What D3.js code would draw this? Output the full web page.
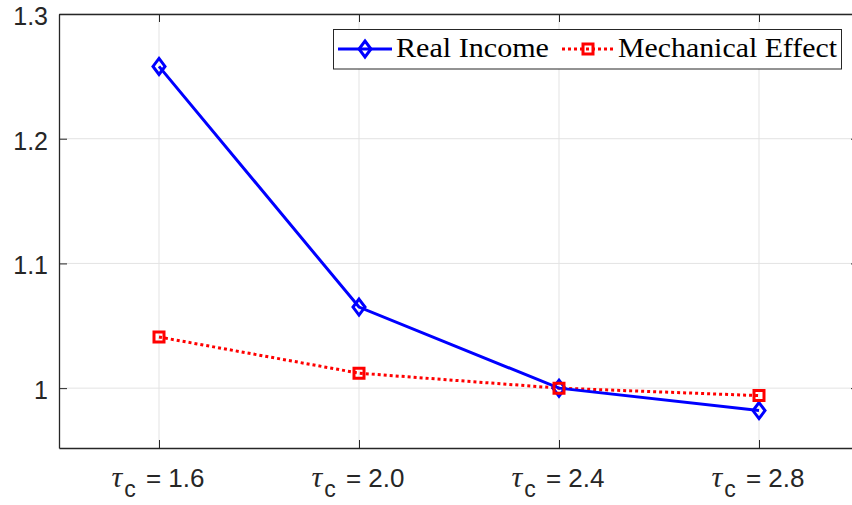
<!DOCTYPE html>
<html><head><meta charset="utf-8">
<script src="https://cdn.jsdelivr.net/npm/d3@7"></script>
<style>body{margin:0;background:#fff}svg{display:block}</style>
</head><body>
<svg id="c" width="852" height="505"></svg>
<script>
const categories = ["1.6", "2.0", "2.4", "2.8"];
const realIncome = [1.258, 1.065, 1.000, 0.982];
const mechanical = [1.041, 1.012, 1.000, 0.994];
const yTicks = [1, 1.1, 1.2, 1.3];
const yTickLabels = ["1", "1.1", "1.2", "1.3"];
const seriesNames = ["Real Income", "Mechanical Effect"];

const svg = d3.select("#c");
const L = 59, R = 859, T = 14, B = 448;
const x = d3.scaleLinear().domain([0.5, 4.5]).range([L, R]);
const y = d3.scaleLinear().domain([0.952, 1.3]).range([B, T]);
const idx = categories.map((d, i) => i + 1);
const sans = "Liberation Sans, Arial, Helvetica, sans-serif";
const serif = "Liberation Serif, Times New Roman, serif";

// grid
svg.append("g").selectAll("line").data(idx).join("line")
  .attr("x1", d => x(d)).attr("x2", d => x(d)).attr("y1", T).attr("y2", B)
  .attr("stroke", "#e3e3e3").attr("stroke-width", 1);
svg.append("g").selectAll("line").data(yTicks).join("line")
  .attr("x1", L).attr("x2", R).attr("y1", d => y(d)).attr("y2", d => y(d))
  .attr("stroke", "#e3e3e3").attr("stroke-width", 1);

// axes
const axCol = "#262626";
const yAx = svg.append("g").attr("transform", `translate(${L},0)`)
  .call(d3.axisLeft(y).tickValues(yTicks).tickFormat((d, i) => yTickLabels[i]).tickSizeInner(-8).tickSizeOuter(0).tickPadding(11));
const yAxR = svg.append("g").attr("transform", `translate(${R},0)`)
  .call(d3.axisRight(y).tickValues(yTicks).tickFormat("").tickSizeInner(-8).tickSizeOuter(0));
const xAx = svg.append("g").attr("transform", `translate(0,${B})`)
  .call(d3.axisBottom(x).tickValues(idx).tickFormat("").tickSizeInner(-8).tickSizeOuter(0));
const xAxT = svg.append("g").attr("transform", `translate(0,${T})`)
  .call(d3.axisTop(x).tickValues(idx).tickFormat("").tickSizeInner(-8).tickSizeOuter(0));
[yAx, yAxR, xAx, xAxT].forEach(g => {
  g.select(".domain").attr("stroke", axCol).attr("stroke-width", 1.3);
  g.selectAll(".tick line").attr("stroke", axCol).attr("stroke-width", 1);
});
yAx.selectAll(".tick text").attr("font-family", sans)
  .attr("font-size", 25).attr("fill", axCol).attr("dy", "0.42em");

// x labels
const xl = svg.append("g").selectAll("text").data(categories).join("text")
  .attr("x", (d, i) => x(i + 1) - 1).attr("y", 487)
  .attr("text-anchor", "middle").attr("font-family", sans)
  .attr("font-size", 26).attr("fill", axCol);
xl.append("tspan").attr("font-family", serif).attr("font-style", "italic").attr("font-size", 30).text("τ");
xl.append("tspan").attr("dx", 2).attr("dy", 10).attr("font-size", 23).text("c");
xl.append("tspan").attr("dx", 3).attr("dy", -10).text(d => " = " + d);

// lines
const line = d3.line().x((d, i) => x(i + 1)).y(d => y(d));
svg.append("path").datum(mechanical).attr("d", line).attr("fill", "none")
  .attr("stroke", "#ff0000").attr("stroke-width", 3).attr("stroke-dasharray", "3,3");
svg.append("path").datum(realIncome).attr("d", line).attr("fill", "none")
  .attr("stroke", "#0000ff").attr("stroke-width", 3);

const diamond = (cx, cy) => `M${cx},${cy-8}L${cx+6},${cy}L${cx},${cy+8}L${cx-6},${cy}Z`;
const square = (cx, cy) => `M${cx-5},${cy-5}h10v10h-10Z`;
svg.append("g").selectAll("path").data(realIncome).join("path")
  .attr("d", (d, i) => diamond(x(i + 1), y(d))).attr("fill", "none")
  .attr("stroke", "#0000ff").attr("stroke-width", 3);
svg.append("g").selectAll("path").data(mechanical).join("path")
  .attr("d", (d, i) => square(x(i + 1), y(d))).attr("fill", "none")
  .attr("stroke", "#ff0000").attr("stroke-width", 3);

// legend
const lg = svg.append("g");
lg.append("rect").attr("x", 333.5).attr("y", 29.5).attr("width", 508).attr("height", 39.5)
  .attr("fill", "#fff").attr("stroke", axCol).attr("stroke-width", 1);
lg.append("line").attr("x1", 338).attr("x2", 392).attr("y1", 49).attr("y2", 49)
  .attr("stroke", "#0000ff").attr("stroke-width", 3);
lg.append("path").attr("d", diamond(365, 49)).attr("fill", "none").attr("stroke", "#0000ff").attr("stroke-width", 3);
lg.append("line").attr("x1", 562).attr("x2", 614).attr("y1", 49).attr("y2", 49)
  .attr("stroke", "#ff0000").attr("stroke-width", 3).attr("stroke-dasharray", "3,3");
lg.append("path").attr("d", square(588, 49)).attr("fill", "none").attr("stroke", "#ff0000").attr("stroke-width", 3);
lg.selectAll("text").data(seriesNames).join("text")
  .attr("x", (d, i) => i === 0 ? 396 : 618).attr("y", 57)
  .attr("font-family", serif).attr("font-size", 28)
  .attr("textLength", (d, i) => i === 0 ? 153 : 219).attr("lengthAdjust", "spacingAndGlyphs")
  .attr("fill", "#000").text(d => d);
</script>
</body></html>
